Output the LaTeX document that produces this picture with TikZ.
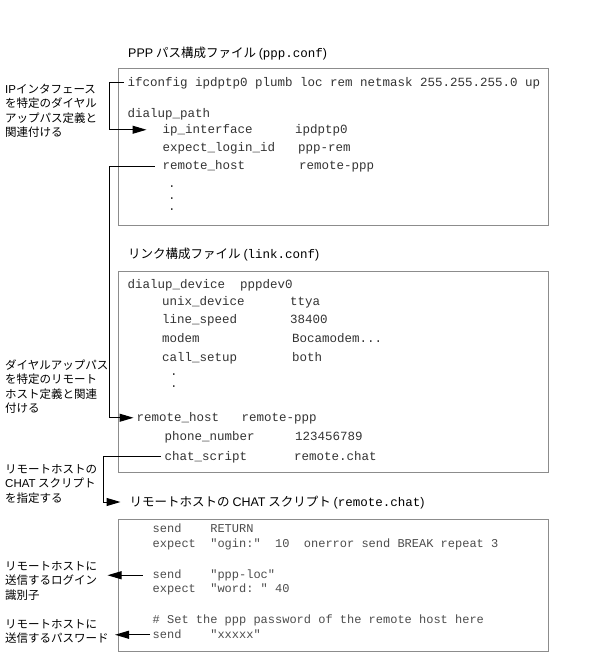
\documentclass[tikz,border=0pt]{standalone}
\usepackage{fontspec}
\setmainfont{Noto Sans CJK JP}
\setmonofont{Liberation Mono}
\newfontfamily\latinsf{Liberation Sans}
\usetikzlibrary{arrows.meta}

\begin{document}
\begin{tikzpicture}[x=1pt, y=-1pt,
	conf/.style={anchor=base west, inner sep=0pt, text height=9pt, text depth=2.5pt, font=\ttfamily\fontsize{12.5}{14}\selectfont, text=black!80},
	chat/.style={conf, font=\ttfamily\fontsize{12}{14}\selectfont, text=black!70},
	ttl/.style={anchor=base west, inner sep=0pt, text height=10pt, text depth=2pt, font=\fontsize{12.5}{14}\selectfont},
	lbl/.style={anchor=base west, inner sep=0pt, align=left, font=\fontsize{11.5}{14.5}\selectfont},
	frame/.style={draw=black!45, line width=1pt},
	link/.style={line width=1pt},
	pointer/.style={-{Triangle[length=14pt, width=8pt]}}]
	\useasboundingbox (0, 0) rectangle (594, 653);

	\draw[frame] (118, 68) rectangle (548, 225);
	\draw[frame] (118, 271) rectangle (548, 472);
	\draw[frame] (118, 519) rectangle (548, 651);

	\coordinate (rail1) at (109, 0);
	\coordinate (rail2) at (103, 0);

	\node[ttl] (pppttl) at (128, 57.5) {{\latinsf PPP} パス構成ファイル {\latinsf(}{\ttfamily ppp.conf}{\latinsf)}};
	\node[ttl] (linkttl) at (128, 258.5) {リンク構成ファイル {\latinsf(}{\ttfamily link.conf}{\latinsf)}};
	\node[ttl] (chatttl) at (129.5, 506) {リモートホストの {\latinsf CHAT} スクリプト {\latinsf(}{\ttfamily remote.chat}{\latinsf)}};

	\node[conf] (ifc) at (127.5, 86) {ifconfig ipdptp0 plumb loc rem netmask 255.255.255.0 up};
	\node[conf] (dpath) at (127.5, 117) {dialup\_path};
	\node[conf] (ipif) at (162.5, 133) {ip\_interface};
	\node[conf] (ipifv) at (295, 133) {ipdptp0};
	\node[conf] (elid) at (162.5, 151) {expect\_login\_id};
	\node[conf] (elidv) at (298, 151) {ppp-rem};
	\node[conf] (rhost) at (162.5, 169.5) {remote\_host};
	\node[conf] (rhostv) at (299, 169.5) {remote-ppp};
	\node[conf] (pdot1) at (168, 187) {.};
	\node[conf] (pdot2) at (168, 199) {.};
	\node[conf] (pdot3) at (168, 210) {.};

	\node[conf] (ddev) at (127.5, 288.5) {dialup\_device~~pppdev0};
	\node[conf] (udev) at (162, 305) {unix\_device};
	\node[conf] (udevv) at (290, 305) {ttya};
	\node[conf] (lspd) at (162, 323.5) {line\_speed};
	\node[conf] (lspdv) at (290, 323.5) {38400};
	\node[conf] (mdm) at (162, 342.5) {modem};
	\node[conf] (mdmv) at (292, 342.5) {Bocamodem...};
	\node[conf] (csup) at (162, 361.5) {call\_setup};
	\node[conf] (csupv) at (292, 361.5) {both};
	\node[conf] (ldot1) at (170, 375) {.};
	\node[conf] (ldot2) at (170, 387) {.};
	\node[conf] (lhost) at (136.5, 421) {remote\_host~~~remote-ppp};
	\node[conf] (phone) at (164.5, 440.5) {phone\_number};
	\node[conf] (phonev) at (295, 440.5) {123456789};
	\node[conf] (cscr) at (164.5, 460) {chat\_script};
	\node[conf] (cscrv) at (294, 460) {remote.chat};

	\node[chat] (sret) at (152.5, 532.5) {send~~~~RETURN};
	\node[chat] (eogin) at (152.5, 547.5) {expect~~"ogin:"~~10~~onerror send BREAK repeat 3};
	\node[chat] (sloc) at (152.5, 578.5) {send~~~~"ppp-loc"};
	\node[chat] (eword) at (152.5, 592.5) {expect~~"word:~"~40};
	\node[chat] (cmnt) at (152.5, 623.5) {\# Set the ppp password of the remote host here};
	\node[chat] (spwd) at (152.5, 638) {send~~~~"xxxxx"};

	\node[lbl] (ifnote) at (5, 136.8) {{\latinsf IP}インタフェース\\を特定のダイヤル\\アップパス定義と\\関連付ける};
	\node[lbl] (hostnote) at (5, 412.8) {ダイヤルアップパス\\を特定のリモート\\ホスト定義と関連\\付ける};
	\node[lbl] (chatnote) at (5, 502.3) {リモートホストの\\{\latinsf CHAT} スクリプト\\を指定する};
	\node[lbl] (loginnote) at (5, 599) {リモートホストに\\送信するログイン\\識別子};
	\node[lbl] (pwdnote) at (5, 642.8) {リモートホストに\\送信するパスワード};

	\draw[link, pointer, shorten <=4pt, shorten >=16pt] (ifc.west) -- (ifc.west -| rail1) |- (ipif.west);
	\draw[link, pointer, shorten <=8pt, shorten >=3pt] (rhost.west) -- (rhost.west -| rail1) |- (lhost.west);
	\draw[link, pointer, shorten <=4pt, shorten >=9pt] (cscr.west) -- (cscr.west -| rail2) |- (chatttl.west);
	\draw[link, pointer, shorten <=10pt] (sloc.west) -- ++(-45, 0);
	\draw[link, pointer, shorten <=2.5pt] (spwd.west) -- ++(-37.5, 0);

\end{tikzpicture}
\end{document}
